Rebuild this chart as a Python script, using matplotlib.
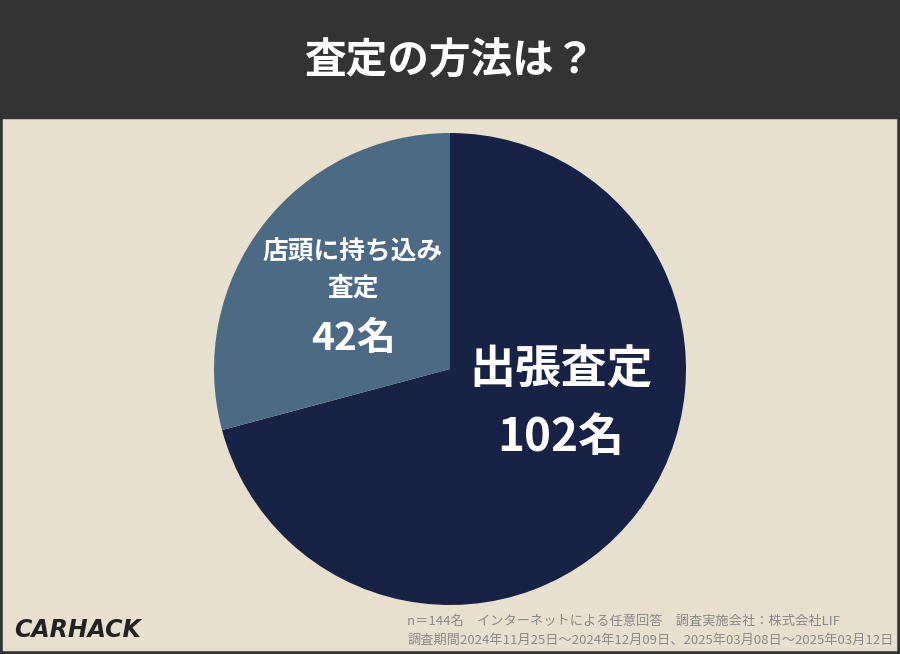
import matplotlib
matplotlib.use("Agg")
import matplotlib.pyplot as plt
from matplotlib.patches import Rectangle

plt.rcParams['font.family'] = ['Noto Sans CJK JP', 'DejaVu Sans']

labels = ["出張査定", "店頭に持ち込み\n査定"]
values = [102, 42]
colors = ["#182244", "#4d6a85"]
title = "査定の方法は？"
note1 = "n＝144名　インターネットによる任意回答　調査実施会社：株式会社LIF"
note2 = "調査期間2024年11月25日〜2024年12月09日、2025年03月08日〜2025年03月12日"

fig = plt.figure(figsize=(9, 6.54), dpi=100)
fig.patch.set_facecolor("#e8e0ce")
fig.add_artist(Rectangle((0, 1 - 118/654), 1, 118/654, transform=fig.transFigure, color="#333333", zorder=0))
fig.add_artist(Rectangle((0, 0), 1, 1, transform=fig.transFigure, fill=False, ec="#333333", lw=4, zorder=5))
fig.text(0.5, 1 - 62/654, title, color="white", fontsize=30, fontweight="bold", ha="center", va="center")

r = 236/654
cx, cy = 450/900, 1 - 369/654
ax = fig.add_axes([cx - r*654/900, cy - r, 2*r*654/900, 2*r])
ax.pie(values, colors=colors, startangle=90, counterclock=False, radius=1)
ax.set_aspect("equal")
ax.set_xlim(-1, 1); ax.set_ylim(-1, 1)
ax.axis("off")

fig.text(561/900, 1 - 370/654, labels[0], color="white", fontsize=33, fontweight="bold", ha="center", va="center")
fig.text(561/900, 1 - 438/654, f"{values[0]}名", color="white", fontsize=33, fontweight="bold", ha="center", va="center")
fig.text(353/900, 1 - 270/654, labels[1], color="white", fontsize=18.5, fontweight="bold", ha="center", va="center", linespacing=1.45)
fig.text(353/900, 1 - 338/654, f"{values[1]}名", color="white", fontsize=28, fontweight="bold", ha="center", va="center")

fig.text(407/900, 1 - 621/654, note1, color="#8a8a8a", fontsize=9.5, ha="left", va="center")
fig.text(407/900, 1 - 640/654, note2, color="#8a8a8a", fontsize=9.5, ha="left", va="center")
fig.text(14/900, 1 - 630/654, "CARHACK", color="#222222", fontsize=17, fontweight="heavy", style="italic", ha="left", va="center", family=["DejaVu Sans"])

fig.savefig("out.png", dpi=100, facecolor=fig.get_facecolor())
